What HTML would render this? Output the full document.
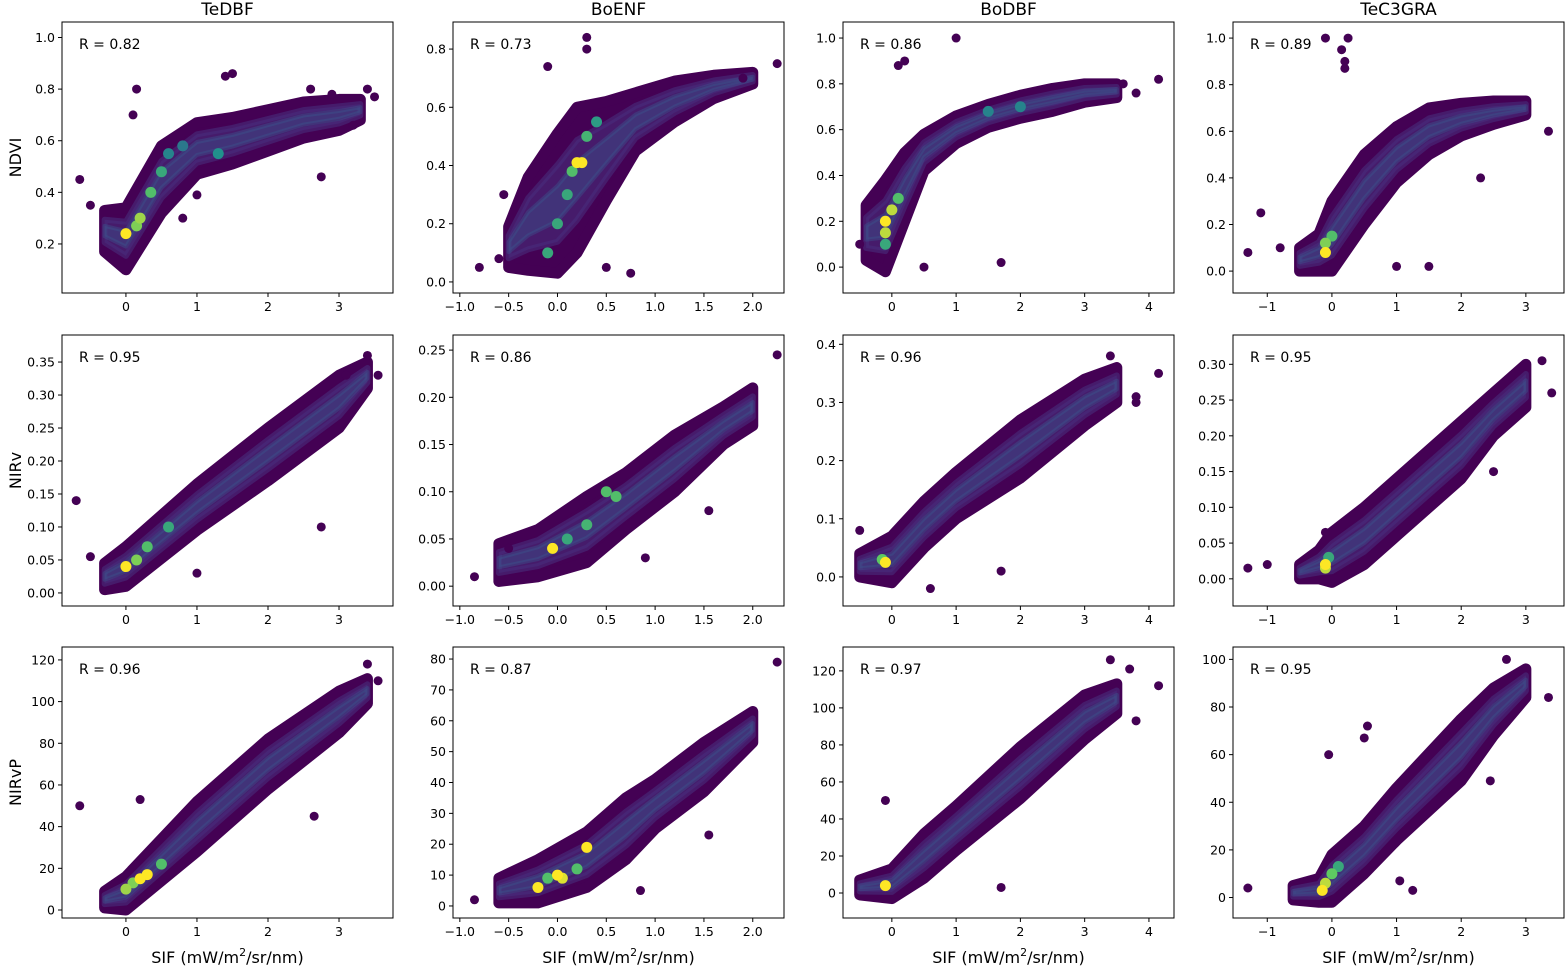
<!DOCTYPE html>
<html><head><meta charset="utf-8"><style>
body{margin:0;background:#fff}
svg text{font-family:"DejaVu Sans","Liberation Sans",sans-serif;fill:#000}
</style></head><body>
<svg id="chart" width="1567" height="966" viewBox="0 0 1567 966" xmlns="http://www.w3.org/2000/svg"></svg>
<script>
// ---- data arrays ----
const colTitles = ["TeDBF","BoENF","BoDBF","TeC3GRA"];
const rowLabels = ["NDVI","NIRv","NIRvP"];
const rValues = [["0.82","0.73","0.86","0.89"],["0.95","0.86","0.96","0.95"],["0.96","0.87","0.97","0.95"]];
const xTicks = [[0,1,2,3],[-1,-0.5,0,0.5,1,1.5,2],[0,1,2,3,4],[-1,0,1,2,3]];
const xTickLabels = [["0","1","2","3"],["−1.0","−0.5","0.0","0.5","1.0","1.5","2.0"],["0","1","2","3","4"],["−1","0","1","2","3"]];
const yTicks = [
 [[0.2,0.4,0.6,0.8,1.0],[0,0.2,0.4,0.6,0.8],[0,0.2,0.4,0.6,0.8,1.0],[0,0.2,0.4,0.6,0.8,1.0]],
 [[0,0.05,0.1,0.15,0.2,0.25,0.3,0.35],[0,0.05,0.1,0.15,0.2,0.25],[0,0.1,0.2,0.3,0.4],[0,0.05,0.1,0.15,0.2,0.25,0.3]],
 [[0,20,40,60,80,100,120],[0,10,20,30,40,50,60,70,80],[0,20,40,60,80,100,120],[0,20,40,60,80,100]]];
const yDigits = [[1,1,1,1],[2,2,1,2],[0,0,0,0]];
// trend bands: [sif, center, halfwidth]
const trendSif = [
 [[-0.3,0,0.5,1,1.5,2,2.5,3,3.3],[-0.5,-0.3,0,0.2,0.5,0.8,1.2,1.6,2.0],[-0.4,-0.1,0.2,0.5,1,1.5,2,2.5,3,3.5],[-0.5,-0.2,0,0.5,1,1.5,2,2.5,3]],
 [[-0.3,0,1,2,3,3.4],[-0.6,-0.2,0.3,0.7,1.2,1.7,2.0],[-0.5,0,0.5,1,2,3,3.5],[-0.5,-0.2,0,0.5,1,2,2.5,3]],
 [[-0.3,0,1,2,3,3.4],[-0.6,-0.2,0.3,0.7,1.0,1.5,2.0],[-0.5,0,0.5,1,2,3,3.5],[-0.6,-0.2,0,0.5,1,2,2.5,3]]];
const trendY = [
 [[0.25,0.22,0.45,0.57,0.6,0.64,0.68,0.7,0.72],[0.12,0.2,0.27,0.35,0.45,0.55,0.62,0.67,0.7],[0.15,0.18,0.35,0.5,0.6,0.66,0.7,0.73,0.76,0.77],[0.05,0.08,0.15,0.35,0.5,0.6,0.65,0.68,0.7]],
 [[0.025,0.04,0.13,0.21,0.29,0.33],[0.025,0.035,0.06,0.09,0.13,0.17,0.19],[0.02,0.03,0.09,0.14,0.22,0.3,0.33],[0.01,0.02,0.03,0.06,0.1,0.18,0.23,0.27]],
 [[5,8,40,70,95,105],[5,8,15,25,33,45,58],[3,5,20,35,65,95,105],[2,3,8,20,35,62,78,90]]];
const trendW = [
 [[0.08,0.12,0.13,0.1,0.09,0.08,0.07,0.06,0.04],[0.07,0.16,0.24,0.25,0.17,0.1,0.07,0.04,0.02],[0.12,0.2,0.15,0.08,0.06,0.05,0.05,0.05,0.04,0.03],[0.05,0.08,0.15,0.15,0.12,0.1,0.07,0.05,0.03]],
 [[0.02,0.03,0.035,0.04,0.04,0.02],[0.02,0.025,0.035,0.03,0.03,0.02,0.02],[0.02,0.04,0.04,0.04,0.05,0.04,0.03],[0.01,0.02,0.035,0.04,0.04,0.04,0.03,0.03]],
 [[4,8,12,12,10,6],[4,7,9,10,8,8,5],[4,8,12,12,14,12,8],[3,5,10,10,11,13,10,6]]];
// outliers
const outX = [
 [[-0.65,-0.5,0.15,0.1,1.4,1.5,2.75,3.5,3.4,1.0,0.8,2.6,2.9,3.2],[-0.8,-0.6,-0.1,0.3,0.3,0.75,2.25,0.5,-0.55,1.9],[1.0,0.1,0.2,1.7,4.15,3.8,-0.5,0.5,3.6],[-0.1,0.25,0.15,0.2,0.2,-1.3,-1.1,1.0,1.5,2.3,3.35,-0.8]],
 [[-0.7,-0.5,3.4,3.55,2.75,1.0,3.1],[-0.85,2.25,1.55,0.9,-0.5],[1.7,4.15,3.4,3.8,3.8,-0.5,0.6],[-1.3,-0.1,3.4,3.25,2.5,-1.0]],
 [[-0.65,3.4,3.55,2.65,0.2],[-0.85,2.25,1.55,0.85],[1.7,-0.1,3.4,3.7,4.15,3.8],[-1.3,-0.05,0.55,0.5,2.45,3.35,2.7,1.25,1.05]]];
const outY = [
 [[0.45,0.35,0.8,0.7,0.85,0.86,0.46,0.77,0.8,0.39,0.3,0.8,0.78,0.66],[0.05,0.08,0.74,0.8,0.84,0.03,0.75,0.05,0.3,0.7],[1.0,0.88,0.9,0.02,0.82,0.76,0.1,0.0,0.8],[1.0,1.0,0.95,0.9,0.87,0.08,0.25,0.02,0.02,0.4,0.6,0.1]],
 [[0.14,0.055,0.36,0.33,0.1,0.03,0.33],[0.01,0.245,0.08,0.03,0.04],[0.01,0.35,0.38,0.31,0.3,0.08,-0.02],[0.015,0.065,0.26,0.305,0.15,0.02]],
 [[50,118,110,45,53],[2,79,23,5],[3,50,126,121,112,93],[4,60,72,67,49,84,100,3,7]]];
// hot (dense) points: x, y, density level 0..1
const hotX = [
 [[0.6,0.8,1.3,0.5,0.35,0.2,0.15,0],[0.1,-0.1,0.4,0,0.15,0.3,0.2,0.25],[2,1.5,0.1,-0.1,0,-0.1,-0.1],[0,-0.1,-0.1]],
 [[0.6,0.3,0.15,0],[0.1,0.3,0.6,0.5,-0.05],[-0.15,-0.1],[-0.05,-0.1,-0.1]],
 [[0.5,0.1,0,0.3,0.2],[-0.1,0.2,0.05,0,-0.2,0.3],[-0.1],[0.1,0,-0.1,-0.15]]];
const hotY = [
 [[0.55,0.58,0.55,0.48,0.4,0.3,0.27,0.24],[0.3,0.1,0.55,0.2,0.38,0.5,0.41,0.41],[0.7,0.68,0.3,0.1,0.25,0.15,0.2],[0.15,0.12,0.08]],
 [[0.1,0.07,0.05,0.04],[0.05,0.065,0.095,0.1,0.04],[0.03,0.025],[0.03,0.015,0.02]],
 [[22,13,10,17,15],[9,12,9,10,6,19],[4],[13,10,6,3]]];
const hotLevel = [
 [[0.45,0.4,0.5,0.6,0.7,0.85,0.8,1],[0.6,0.6,0.55,0.6,0.7,0.65,1,1],[0.45,0.45,0.7,0.6,0.9,0.9,1],[0.7,0.8,1]],
 [[0.6,0.7,0.8,1],[0.6,0.65,0.7,0.7,1],[0.75,1],[0.6,0.9,1]],
 [[0.7,0.8,0.85,1,1],[0.7,0.7,0.95,1,1,1],[1],[0.6,0.75,0.9,1]]];
// ---- layout ----
const colLeft=[62,453,843,1233], colW=331;
const rowTop=[22,335,647], rowH=271;
const xDom=[[-0.90,3.76],[-1.07,2.32],[-0.76,4.39],[-1.53,3.59]];
const yDom=[[[0.01,1.06],[-0.038,0.893],[-0.113,1.07],[-0.094,1.069]],
 [[-0.0198,0.391],[-0.021,0.266],[-0.05,0.416],[-0.038,0.341]],
 [[-3.84,126.2],[-3.9,83.9],[-13.5,132.9],[-8.6,105.2]]];
const svg=document.getElementById('chart');
const NS='http://www.w3.org/2000/svg';
function mk(tag,attrs,parent){const e=document.createElementNS(NS,tag);for(const k in attrs)e.setAttribute(k,attrs[k]);(parent||svg).appendChild(e);return e;}
function viridis(t){const c=[[68,1,84],[59,82,139],[33,145,140],[94,201,98],[253,231,37]];const s=t*4,i=Math.min(3,Math.floor(s)),f=s-i;const a=c[i],b=c[i+1];return `rgb(${a.map((v,k)=>Math.round(v+(b[k]-v)*f)).join(',')})`;}
for(let r=0;r<3;r++)for(let c=0;c<4;c++){
 const L=colLeft[c],T=rowTop[r];
 const sx=v=>L+(v-xDom[c][0])/(xDom[c][1]-xDom[c][0])*colW;
 const sy=v=>T+rowH-(v-yDom[r][c][0])/(yDom[r][c][1]-yDom[r][c][0])*rowH;
 const g=mk('g',{});
 
 
 const clip=mk('clipPath',{id:'cp'+r+c},g);mk('rect',{x:L,y:T,width:colW,height:rowH},clip);
 const pg=mk('g',{'clip-path':'url(#cp'+r+c+')'},g);
 const ts=trendSif[r][c],ty=trendY[r][c],tw=trendW[r][c];
 const band=(k,col,op,sw)=>{let up=[],dn=[];for(let i=0;i<ts.length;i++){up.push(sx(ts[i])+','+sy(ty[i]+tw[i]*k));dn.unshift(sx(ts[i])+','+sy(ty[i]-tw[i]*k));}
  const p=mk('polygon',{points:up.concat(dn).join(' '),fill:col,stroke:col,'stroke-width':sw,'stroke-linejoin':'round','fill-opacity':op,'stroke-opacity':op},pg);
  };
 band(1,'#440154',1,11);band(0.55,'#472d7b',0.6,6);band(0.25,'#3b528b',0.45,4);
 for(let i=0;i<outX[r][c].length;i++){const ci=mk('circle',{cx:sx(outX[r][c][i]),cy:sy(outY[r][c][i]),r:4.5,fill:'#440154'},pg);
  }
 const idx=hotX[r][c].map((_,i)=>i).sort((a,b)=>hotLevel[r][c][a]-hotLevel[r][c][b]);
 for(const i of idx){const ci=mk('circle',{cx:sx(hotX[r][c][i]),cy:sy(hotY[r][c][i]),r:5.5,fill:viridis(hotLevel[r][c][i])},pg);
  }
 const fr=mk('rect',{x:L,y:T,width:colW,height:rowH,fill:'none',stroke:'#000','stroke-width':1},g);
 
 xTicks[c].forEach((v,i)=>{const x=sx(v);mk('line',{x1:x,x2:x,y1:T+rowH,y2:T+rowH+4,stroke:'#000'},g);
  const t=mk('text',{x:x,y:T+rowH+18,'text-anchor':'middle','font-size':12.5},g);t.textContent=xTickLabels[c][i];
  });
 yTicks[r][c].forEach(v=>{const y=sy(v);mk('line',{x1:L-4,x2:L,y1:y,y2:y,stroke:'#000'},g);
  const t=mk('text',{x:L-7,y:y+4.5,'text-anchor':'end','font-size':12.5},g);t.textContent=v.toFixed(yDigits[r][c]);
  });
 const rt=mk('text',{x:L+17,y:T+27,'font-size':14},g);rt.textContent='R = '+rValues[r][c];
 
 if(r===0){const t=mk('text',{x:L+colW/2,y:15,'text-anchor':'middle','font-size':17},g);t.textContent=colTitles[c];
  }
 if(c===0){const t=mk('text',{x:0,y:0,'text-anchor':'middle','font-size':16,transform:`translate(21,${T+rowH/2}) rotate(-90)`},g);t.textContent=rowLabels[r];
  }
 if(r===2){const t=mk('text',{x:L+colW/2,y:963,'text-anchor':'middle','font-size':16},g);
  t.innerHTML='SIF (mW/m<tspan dy="-7" font-size="11">2</tspan><tspan dy="7">/sr/nm)</tspan>';
  }
}
</script>
</body></html>
